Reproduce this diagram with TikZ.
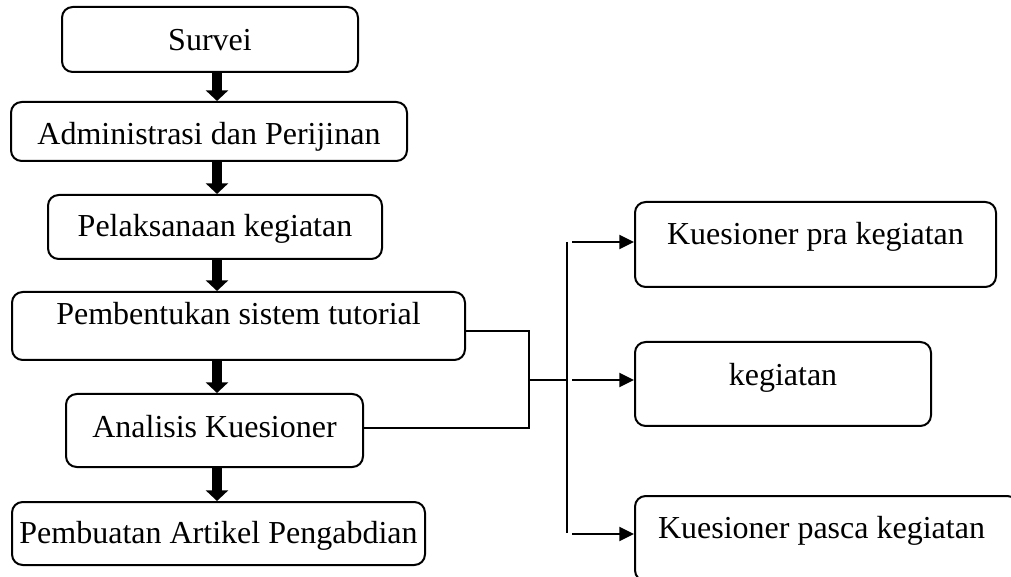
\documentclass[tikz,border=0pt]{standalone}
\usepackage{fontspec}
\setmainfont{Liberation Serif}
\usetikzlibrary{arrows.meta}
\begin{document}
\begin{tikzpicture}[x=0.75pt,y=-0.75pt,
  box/.style={draw, line width=1.5pt, rounded corners=8pt, inner sep=0pt, font=\fontsize{24}{28}\selectfont},
  bigarrow/.style={line width=7.5pt, -{Triangle[length=8pt,width=16.5pt]}},
  thinarrow/.style={line width=1.5pt, -{Triangle[length=11pt,width=10.5pt]}},
  link/.style={line width=1.5pt}]
\clip (0,0) rectangle (1011,577);
\fill[white] (0,0) rectangle (1011,577);
% left column
\node[box, minimum width=222pt, minimum height=48.75pt, text height=17.25pt, text depth=0pt] (survei) at (210,39.5) {Survei};
\node[box, minimum width=297pt, minimum height=44.25pt, text height=20.25pt, text depth=0pt] (admin) at (209,131.5) {Administrasi dan Perijinan};
\node[box, minimum width=250.5pt, minimum height=48pt, text height=15pt, text depth=0pt] (pelak) at (215,227) {Pelaksanaan kegiatan};
\node[box, minimum width=339.75pt, minimum height=51pt, text height=16pt, text depth=17.5pt] (pemb) at (238.5,326) {Pembentukan sistem tutorial};
\node[box, minimum width=222.75pt, minimum height=54.75pt, text height=9.75pt, text depth=0pt] (anal) at (214.5,430.5) {Analisis Kuesioner};
\node[box, minimum width=309.75pt, minimum height=47.25pt, text height=14.25pt, text depth=0pt] (artikel) at (218.5,533.5) {Pembuatan Artikel Pengabdian};
% right column
\node[box, minimum width=270.75pt, minimum height=63.75pt, text height=16pt, text depth=16pt] (pra) at (815.5,244.5) {Kuesioner pra kegiatan};
\node[box, minimum width=222pt, minimum height=63pt, text height=16pt, text depth=13pt] (keg) at (783,384) {kegiatan};
\node[box, minimum width=287.25pt, minimum height=63.75pt, text height=16pt, text depth=16.75pt] (pasca) at (826.5,538.5) {Kuesioner pasca kegiatan\hspace*{7.5pt}};
% thick arrows
\coordinate (ax) at (217,0);
\draw[bigarrow] (survei.south -| ax) -- (admin.north -| ax);
\draw[bigarrow] (admin.south -| ax) -- (pelak.north -| ax);
\draw[bigarrow] (pelak.south -| ax) -- (pemb.north -| ax);
\draw[bigarrow] (pemb.south -| ax) -- (anal.north -| ax);
\draw[bigarrow] (anal.south -| ax) -- (artikel.north -| ax);
% connectors
\coordinate (c1) at (529,331);
\coordinate (c2) at (529,428);
\coordinate (j) at (529,380);
\coordinate (bartop) at (567,242);
\coordinate (barbot) at (567,533);
\coordinate (s1) at (572,242);
\coordinate (s2) at (572,380);
\coordinate (s3) at (572,534);
\draw[link] (pemb.east |- c1) -- (c1) -- (c2) -- (anal.east |- c2);
\draw[link] (j) -- (j -| bartop);
\draw[link] (bartop) -- (barbot);
\draw[thinarrow] (s1) -- (pra.west |- s1);
\draw[thinarrow] (s2) -- (keg.west |- s2);
\draw[thinarrow] (s3) -- (pasca.west |- s3);
\end{tikzpicture}
\end{document}
